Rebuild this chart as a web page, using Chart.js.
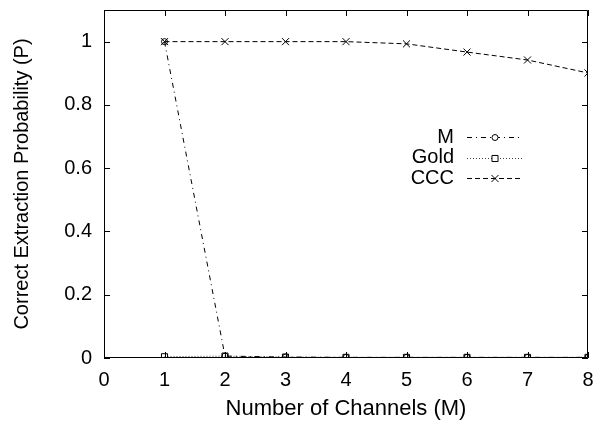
<!DOCTYPE html>
<html>
<head>
<meta charset="utf-8">
<script src="https://cdn.jsdelivr.net/npm/chart.js@4/dist/chart.umd.min.js"></script>
<style>
  html, body { margin: 0; padding: 0; background: #fff; }
  #wrap { width: 597px; height: 422px; }
</style>
</head>
<body>
<div id="wrap"><canvas id="chart" width="597" height="422"></canvas></div>
<script>
const channels = [1, 2, 3, 4, 5, 6, 7, 8];
const mValues = [1, 0.006, 0.003, 0.002, 0.002, 0.002, 0.002, 0.002];
const goldValues = [0.004, 0.006, 0.003, 0.002, 0.002, 0.002, 0.002, 0.002];
const cccValues = [1, 1, 1, 1, 0.993, 0.967, 0.942, 0.901];
const yTicks = [0, 0.2, 0.4, 0.6, 0.8, 1];

const FONT = "'Liberation Sans', Arial, Helvetica, sans-serif";

function toPoints(values) {
    return channels.map((c, i) => ({ x: c, y: values[i] }));
}

// drop the label overflow padding so the plot box sits where layout.padding says
function noLabelPadding(s) {
    s.paddingTop = 0;
    s.paddingBottom = 0;
    s.paddingLeft = 0;
    s.paddingRight = 0;
}

// gnuplot style box with inward ticks on all four sides
const frame = {
    id: 'frame',
    afterDatasetsDraw(chart) {
        const { ctx, chartArea: a, scales } = chart;
        ctx.save();
        ctx.strokeStyle = '#000';
        ctx.lineWidth = 1;
        ctx.beginPath();
        ctx.rect(a.left + 0.5, a.top + 0.5, a.right - a.left - 1, a.bottom - a.top - 1);
        scales.x.ticks.forEach(t => {
            const px = Math.round(scales.x.getPixelForValue(t.value)) + 0.5;
            ctx.moveTo(px, a.bottom); ctx.lineTo(px, a.bottom - 6);
            ctx.moveTo(px, a.top); ctx.lineTo(px, a.top + 6);
        });
        scales.y.ticks.forEach(t => {
            const py = Math.round(scales.y.getPixelForValue(t.value)) + 0.5;
            ctx.moveTo(a.left, py); ctx.lineTo(a.left + 6, py);
            ctx.moveTo(a.right, py); ctx.lineTo(a.right - 6, py);
        });
        ctx.stroke();
        ctx.restore();
    }
};

// key drawn inside the plot: label, then line sample with marker
const key = {
    id: 'key',
    afterDraw(chart) {
        const { ctx } = chart;
        ctx.save();
        ctx.font = '20px ' + FONT;
        ctx.textAlign = 'right';
        ctx.textBaseline = 'middle';
        chart.data.datasets.forEach((ds, i) => {
            const y = 137 + i * 20.5;
            ctx.fillStyle = '#000';
            ctx.fillText(ds.label, 454, y);
            ctx.strokeStyle = ds.borderColor;
            ctx.lineWidth = 1;
            ctx.setLineDash(ds.borderDash);
            ctx.beginPath();
            ctx.moveTo(467, Math.round(y) + 0.5);
            ctx.lineTo(523, Math.round(y) + 0.5);
            ctx.stroke();
            ctx.setLineDash([]);
            ctx.strokeStyle = '#000';
            ctx.fillStyle = '#fff';
            Chart.helpers.drawPoint(ctx, {
                pointStyle: ds.pointStyle, radius: ds.pointRadius, rotation: 0, borderWidth: 1
            }, 495, Math.round(y) + 0.5);
        });
        ctx.restore();
    }
};

new Chart(document.getElementById('chart'), {
    type: 'line',
    data: {
        datasets: [{
            label: 'M',
            data: toPoints(mValues),
            borderColor: '#000',
            borderWidth: 1,
            borderDash: [5, 4, 1, 4],
            pointStyle: 'circle',
            pointRadius: 3,
            pointBorderColor: '#000',
            pointBackgroundColor: 'rgba(0,0,0,0)',
            pointBorderWidth: 1
        }, {
            label: 'Gold',
            data: toPoints(goldValues),
            borderColor: '#444',
            borderWidth: 1,
            borderDash: [1, 2],
            pointStyle: 'rect',
            pointRadius: 4.3,
            pointBorderColor: '#000',
            pointBackgroundColor: 'rgba(0,0,0,0)',
            pointBorderWidth: 1
        }, {
            label: 'CCC',
            data: toPoints(cccValues),
            borderColor: '#000',
            borderWidth: 1,
            borderDash: [5, 3],
            pointStyle: 'crossRot',
            pointRadius: 5,
            pointBorderColor: '#000',
            pointBackgroundColor: 'rgba(0,0,0,0)',
            pointBorderWidth: 1
        }]
    },
    options: {
        responsive: false,
        animation: false,
        layout: { padding: { top: 10, right: 9, left: 0, bottom: 0 } },
        plugins: { legend: { display: false }, tooltip: { enabled: false } },
        elements: { line: { tension: 0 } },
        scales: {
            x: {
                type: 'linear',
                min: 0,
                max: 8,
                afterFit: s => { s.height = 64; noLabelPadding(s); },
                grid: { display: false, drawTicks: false },
                border: { display: false },
                ticks: { stepSize: 1, padding: 10, color: '#000', font: { family: FONT, size: 20 } },
                title: {
                    display: true,
                    text: 'Number of Channels (M)',
                    color: '#000',
                    font: { family: FONT, size: 22 },
                    padding: { top: 0, bottom: 0 }
                }
            },
            y: {
                type: 'linear',
                min: 0,
                max: 1.1,
                afterFit: s => { s.width = 104; noLabelPadding(s); },
                afterBuildTicks: s => { s.ticks = yTicks.map(v => ({ value: v })); },
                grid: { display: false, drawTicks: false },
                border: { display: false },
                ticks: {
                    padding: 12,
                    color: '#000',
                    font: { family: FONT, size: 20 },
                    callback: v => String(Number(v.toFixed(1)))
                },
                title: {
                    display: true,
                    text: 'Correct Extraction Probability (P)',
                    color: '#000',
                    font: { family: FONT, size: 20 },
                    padding: { top: 10, bottom: 0 }
                }
            }
        }
    },
    plugins: [frame, key]
});
</script>
</body>
</html>
